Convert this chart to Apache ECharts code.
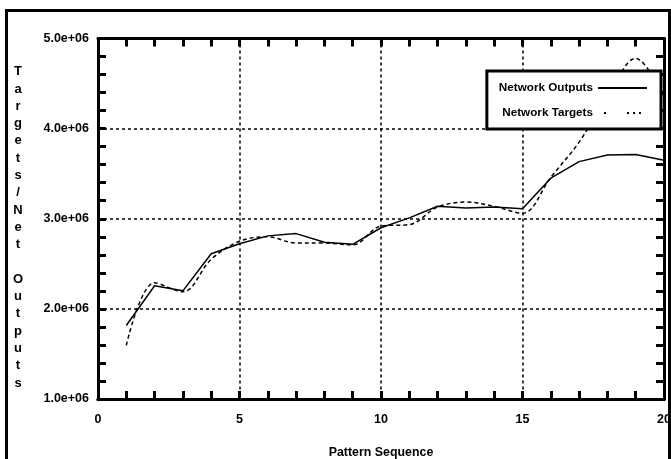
<!DOCTYPE html>
<html>
<head>
<meta charset="utf-8">
<style>html,body{margin:0;padding:0;background:#fff;}#c{width:671px;height:459px;}</style>
<script src="https://cdn.jsdelivr.net/npm/echarts@6/dist/echarts.min.js"></script>
</head>
<body>
<div id="c"></div>
<script>
var patterns = [1,2,3,4,5,6,7,8,9,10,11,12,13,14,15,16,17,18,19,20];
var networkOutputs = [1815000,2256000,2200000,2612000,2722000,2810000,2835000,2740000,2716000,2900000,3010000,3138000,3120000,3130000,3110000,3450000,3634000,3707000,3714000,3650000];
var networkTargets = [1595000,2290000,2190000,2550000,2750000,2800000,2730000,2730000,2710000,2920000,2935000,3130000,3185000,3138000,3060000,3460000,3850000,4360000,4780000,4350000];
var yTicks = [1000000,2000000,3000000,4000000,5000000];
var xTicks = [0,5,10,15,20];
var seriesNames = ['Network Outputs','Network Targets'];

var FONT = '"Liberation Sans","Arial",sans-serif';
function fmtExp(v){
  var s = v.toExponential(1);
  var p = s.split('e');
  var sign = p[1].charAt(0);
  var e = p[1].slice(1);
  if (e.length < 2) e = '0' + e;
  return p[0] + 'e' + sign + e;
}
var chart = echarts.init(document.getElementById('c'), null, {renderer:'canvas'});
var LINE = {show:true, onZero:false, lineStyle:{color:'#000', width:3}};
var GRIDLINE = {show:true, lineStyle:{color:'#000', width:1.5, type:[3,3]}};
function tickAxis(base, pos, step){
  return Object.assign({}, base, {position:pos, interval:step, axisLine:LINE,
    axisTick:{show:true, inside:true, length:8, lineStyle:{color:'#000', width:3}},
    axisLabel:{show:false}, splitLine:{show:false}});
}
var xBase = {type:'value', min:xTicks[0], max:xTicks[xTicks.length-1]};
var yBase = {type:'value', min:yTicks[0], max:yTicks[yTicks.length-1]};
var option = {
  animation:false,
  backgroundColor:'#fff',
  grid:{left:98, right:7, top:38.5, bottom:60, containLabel:false, outerBoundsMode:'none'},
  legend:{
    show:true, orient:'vertical', right:10, top:71, align:'right',
    backgroundColor:'#fff', borderColor:'#000', borderWidth:3, borderRadius:0,
    padding:[11,13,10,12], itemGap:13, itemWidth:49, itemHeight:14,
    itemStyle:{color:'rgba(0,0,0,0)', opacity:0, borderWidth:0},
    textStyle:{fontFamily:FONT, fontWeight:'bold', fontSize:11.7, color:'#000'},
    data:[
      {name:seriesNames[0]},
      {name:seriesNames[1], lineStyle:{type:[0.01,6,2,21,2,4,2,4,2,10]}}
    ]
  },
  xAxis:[
    Object.assign({}, xBase, {position:'bottom', interval:5,
      name:'Pattern Sequence', nameLocation:'middle', nameGap:48,
      nameTextStyle:{fontFamily:FONT, fontWeight:'bold', fontSize:12.4, color:'#000'},
      axisLine:LINE, axisTick:{show:false},
      axisLabel:{margin:14, fontFamily:FONT, fontWeight:'bold', fontSize:12.5, color:'#000'},
      splitLine:GRIDLINE}),
    tickAxis(xBase, 'bottom', 1),
    tickAxis(xBase, 'top', 1)
  ],
  yAxis:[
    Object.assign({}, yBase, {position:'left', interval:1000000,
      name:'\nT\na\nr\ng\ne\nt\ns\n/\nN\ne\nt\n \nO\nu\nt\np\nu\nt\ns',
      nameLocation:'middle', nameRotate:0, nameGap:80,
      nameTextStyle:{fontFamily:FONT, fontWeight:'bold', fontSize:13, color:'#000', align:'center', verticalAlign:'middle', lineHeight:17.3},
      axisLine:LINE, axisTick:{show:false},
      axisLabel:{margin:9, fontFamily:FONT, fontWeight:'bold', fontSize:12.5, color:'#000', formatter:fmtExp},
      splitLine:GRIDLINE}),
    tickAxis(yBase, 'left', 200000),
    tickAxis(yBase, 'right', 200000)
  ],
  graphic:[
    {type:'rect', silent:true, z:100, shape:{x:6.5, y:10.5, width:663, height:470}, style:{fill:null, stroke:'#000', lineWidth:3}}
  ],
  series:[
    {name:seriesNames[0], type:'line', symbol:'none', z:3, xAxisIndex:0, yAxisIndex:0,
      data:patterns.map(function(p,i){return [p, networkOutputs[i]];}),
      lineStyle:{color:'#000', width:1.5, type:'solid'}, itemStyle:{color:'#000'}},
    {name:seriesNames[1], type:'line', symbol:'none', smooth:0.35, z:2, xAxisIndex:0, yAxisIndex:0,
      data:patterns.map(function(p,i){return [p, networkTargets[i]];}),
      lineStyle:{color:'#000', width:1.5, type:[4,3]}, itemStyle:{color:'#000'}}
  ]
};
chart.setOption(option);
</script>
</body>
</html>
